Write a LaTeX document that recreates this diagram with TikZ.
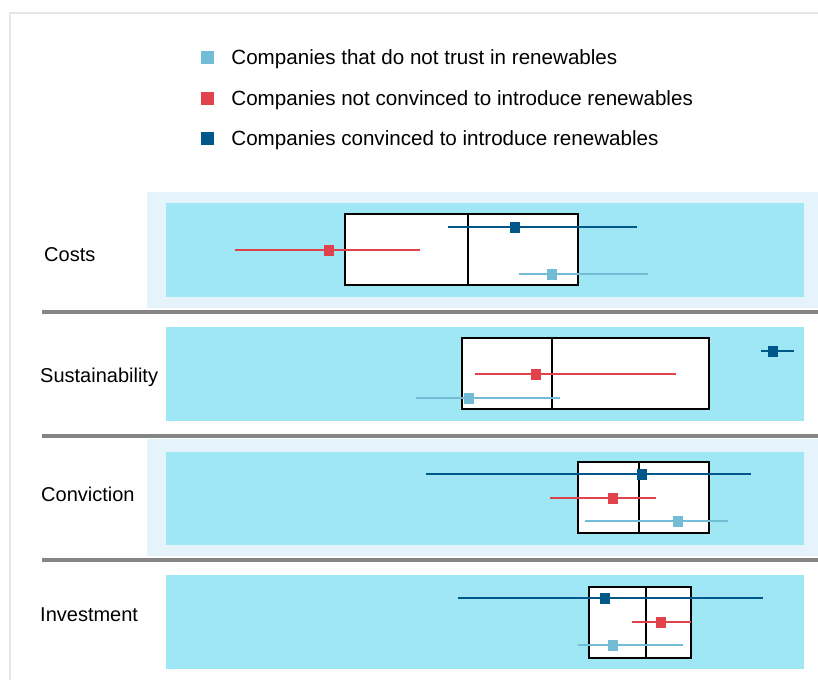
\documentclass[tikz,border=0pt]{standalone}
\usepackage{fontspec}
\setmainfont{Liberation Sans}
\usetikzlibrary{positioning}
\definecolor{darkblue}{HTML}{00578A}
\definecolor{redser}{HTML}{E0434C}
\definecolor{lightblue}{HTML}{72BCD6}
\definecolor{panel}{HTML}{9FE7F5}
\definecolor{outerpanel}{HTML}{E5F4FB}
\definecolor{rulegray}{HTML}{858585}
\definecolor{framegray}{HTML}{E6E6E6}

\begin{document}
\begin{tikzpicture}[x=1pt,y=-1pt,
	every node/.style={font=\fontsize{20}{24}\selectfont},
	sq/.style={inner sep=0pt,minimum width=10pt,minimum height=11pt},
	darksq/.style={sq,fill=darkblue},
	redsq/.style={sq,fill=redser},
	lightsq/.style={sq,fill=lightblue},
	legsq/.style={inner sep=0pt,minimum size=13pt},
	legtext/.style={inner sep=0pt,text height=14.8pt,text depth=0pt,font=\fontsize{20.6}{24}\selectfont},
	catlabel/.style={anchor=west,inner sep=0pt,text height=14.5pt,text depth=0pt},
	darkbar/.style={draw=darkblue,line width=2pt},
	redbar/.style={draw=redser,line width=1.5pt},
	lightbar/.style={draw=lightblue,line width=1.5pt},
	boxplot/.style={draw=black,fill=white,line width=1.3pt},
	sep/.style={draw=rulegray,line width=3.5pt}]
		\useasboundingbox (0,0) rectangle (818,680);
		\draw[framegray,line width=1.5pt] (10,680) -- (10,13) -- (818,13);
		
		% legend
		\node [legsq,fill=lightblue] (l1) at (207.5,57) {};
		\node [legtext,right=17pt of l1] (t1) {Companies that do not trust in renewables};
		\node [legsq,fill=redser] (l2) at (207.5,98.5) {};
		\node [legtext,right=17pt of l2] (t2) {Companies not convinced to introduce renewables};
		\node [legsq,fill=darkblue] (l3) at (207.5,138) {};
		\node [legtext,right=17pt of l3] (t3) {Companies convinced to introduce renewables};
		
		% panels
		\fill[outerpanel] (147,192) rectangle (818,308);
		\fill[outerpanel] (147,439) rectangle (818,556);
		\fill[panel] (166,203) rectangle (804,297);
		\fill[panel] (166,327) rectangle (804,421);
		\fill[panel] (166,452) rectangle (804,545);
		\fill[panel] (166,575) rectangle (804,669);
		\draw[sep] (42,312) -- (818,312);
		\draw[sep] (42,436) -- (818,436);
		\draw[sep] (42,560) -- (818,560);
		
		\node [catlabel] (costs) at (44,254.5) {Costs};
		\node [catlabel] (sust) at (40,375.5) {Sustainability};
		\node [catlabel] (conv) at (41,494.5) {Conviction};
		\node [catlabel] (inv) at (40,614.5) {Investment};
		
		% boxes
		\draw[boxplot] (345,214) rectangle (578,285);
		\draw[line width=1.3pt] (468,214) -- (468,285);
		\draw[boxplot] (462,338) rectangle (709,409);
		\draw[line width=1.3pt] (552,338) -- (552,409);
		\draw[boxplot] (578,462) rectangle (709,533);
		\draw[line width=1.3pt] (639,462) -- (639,533);
		\draw[boxplot] (589,587) rectangle (691,658);
		\draw[line width=1.3pt] (646,587) -- (646,658);
		
		% costs
		\coordinate (c1a) at (448,227); \coordinate (c1b) at (637,227);
		\coordinate (c2a) at (235,250); \coordinate (c2b) at (420,250);
		\coordinate (c3a) at (519,274); \coordinate (c3b) at (648,274);
		\draw[darkbar] (c1a) -- (c1b);
		\draw[redbar] (c2a) -- (c2b);
		\draw[lightbar] (c3a) -- (c3b);
		\node [darksq] (c1) at (515,227) {};
		\node [redsq] (c2) at (329,250) {};
		\node [lightsq] (c3) at (552,274) {};
		
		% sustainability
		\coordinate (s1a) at (761,351); \coordinate (s1b) at (794,351);
		\coordinate (s2a) at (475,374); \coordinate (s2b) at (676,374);
		\coordinate (s3a) at (416,398); \coordinate (s3b) at (560,398);
		\draw[darkbar] (s1a) -- (s1b);
		\draw[redbar] (s2a) -- (s2b);
		\draw[lightbar] (s3a) -- (s3b);
		\node [darksq] (s1) at (773,351) {};
		\node [redsq] (s2) at (536,374) {};
		\node [lightsq] (s3) at (469,398) {};
		
		% conviction
		\coordinate (v1a) at (426,474); \coordinate (v1b) at (751,474);
		\coordinate (v2a) at (550,498); \coordinate (v2b) at (656,498);
		\coordinate (v3a) at (585,521); \coordinate (v3b) at (728,521);
		\draw[darkbar] (v1a) -- (v1b);
		\draw[redbar] (v2a) -- (v2b);
		\draw[lightbar] (v3a) -- (v3b);
		\node [darksq] (v1) at (642,474) {};
		\node [redsq] (v2) at (613,498) {};
		\node [lightsq] (v3) at (678,521) {};
		
		% investment
		\coordinate (i1a) at (458,598); \coordinate (i1b) at (763,598);
		\coordinate (i2a) at (632,622); \coordinate (i2b) at (691,622);
		\coordinate (i3a) at (578,645); \coordinate (i3b) at (683,645);
		\draw[darkbar] (i1a) -- (i1b);
		\draw[redbar] (i2a) -- (i2b);
		\draw[lightbar] (i3a) -- (i3b);
		\node [darksq] (i1) at (605,598) {};
		\node [redsq] (i2) at (661,622) {};
		\node [lightsq] (i3) at (613,645) {};
\end{tikzpicture}
\end{document}
